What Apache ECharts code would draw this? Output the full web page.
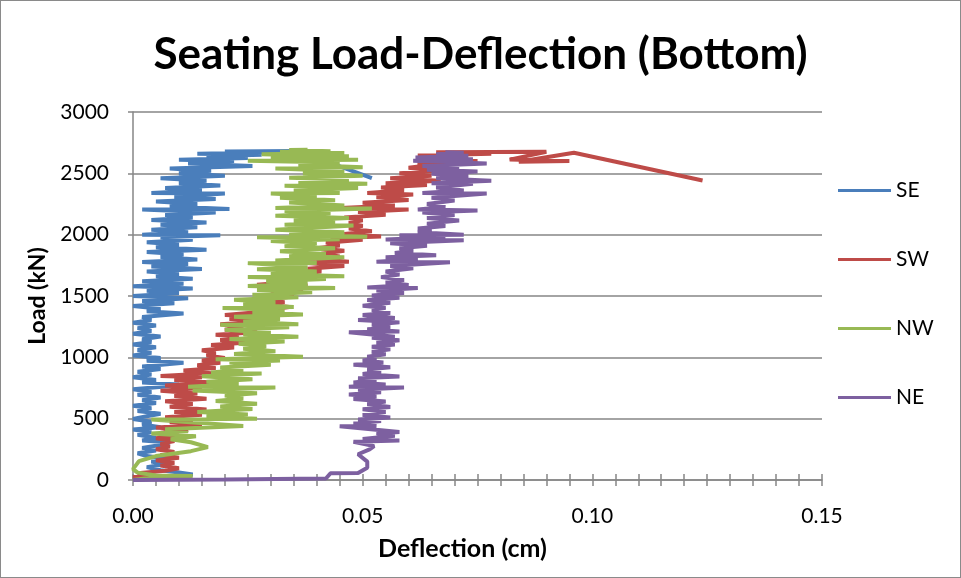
<!DOCTYPE html>
<html>
<head>
<meta charset="utf-8">
<script src="https://cdn.jsdelivr.net/npm/echarts@6/dist/echarts.min.js"></script>
<style>
  html, body { margin: 0; padding: 0; background: #fff; }
  #main { width: 961px; height: 578px; box-sizing: border-box; border: 1px solid #8a8a8a; }
</style>
</head>
<body>
<div id="main"></div>
<script>
// Axis ticks
const deflectionTicks = [0, 0.05, 0.10, 0.15];
const loadTicks = [0, 500, 1000, 1500, 2000, 2500, 3000];

const seriesNames = ['SE', 'SW', 'NW', 'NE'];

// Gauge readings: [deflection (cm), load (kN)]
const seData = [
  [0.000,0],[0.004,8],[0.009,22],[0.013,45],[0.010,62],[0.006,80],[0.003,105],[0.007,128],[0.004,150],[0.008,172],
  [0.003,195],[0.001,218],[0.005,240],[0.002,262],[0.006,285],[0.008,305],[0.002,322],[0.005,345],[0.001,368],[0.004,390],
  [0.000,412],[0.006,430],[0.002,452],[0.004,475],[0.000,498],[0.003,520],[0.006,540],[0.001,562],[0.004,585],[0.000,605],
  [0.005,628],[0.002,650],[0.006,672],[0.001,695],[0.004,718],[0.000,740],[0.007,762],[0.010,778],[0.002,795],[0.005,815],
  [0.000,838],[0.004,860],[0.001,882],[0.006,905],[0.002,925],[0.011,955],[0.003,972],[0.006,995],[0.000,1015],[0.004,1038],
  [0.001,1060],[0.005,1082],[0.000,1105],[0.004,1125],[0.002,1148],[0.006,1170],[0.000,1192],[0.004,1215],[0.001,1238],[0.005,1260],
  [0.000,1282],[0.004,1305],[0.002,1328],[0.011,1358],[0.003,1375],[0.006,1395],[0.000,1418],[0.009,1440],[0.002,1460],[0.012,1482],
  [0.000,1500],[0.010,1522],[0.003,1542],[0.013,1562],[0.000,1580],[0.011,1600],[0.002,1620],[0.013,1640],[0.005,1660],[0.010,1680],
  [0.003,1700],[0.015,1720],[0.004,1740],[0.012,1760],[0.002,1778],[0.014,1798],[0.006,1818],[0.011,1838],[0.003,1858],[0.016,1878],
  [0.005,1898],[0.010,1918],[0.003,1938],[0.013,1958],[0.006,1978],[0.019,1995],[0.002,2000],[0.012,2020],[0.004,2040],[0.014,2060],
  [0.006,2080],[0.016,2100],[0.004,2120],[0.013,2140],[0.007,2160],[0.018,2180],[0.002,2205],[0.021,2210],[0.008,2230],[0.014,2250],
  [0.005,2270],[0.018,2290],[0.009,2310],[0.020,2335],[0.004,2340],[0.015,2360],[0.007,2380],[0.019,2400],[0.010,2420],[0.016,2440],
  [0.006,2460],[0.020,2480],[0.010,2500],[0.017,2520],[0.008,2540],[0.026,2560],[0.012,2580],[0.022,2600],[0.010,2610],[0.025,2625],
  [0.016,2640],[0.028,2652],[0.014,2660],[0.030,2670],[0.020,2678],[0.036,2682],[0.052,2460]
];

const swData = [
  [0.000,0],[0.003,12],[0.000,25],[0.004,40],[0.001,55],[0.007,75],[0.010,95],[0.006,118],[0.009,140],[0.005,160],
  [0.010,182],[0.006,205],[0.009,228],[0.005,250],[0.008,272],[0.006,295],[0.009,318],[0.005,340],[0.010,362],[0.006,385],
  [0.012,408],[0.005,428],[0.015,448],[0.008,470],[0.013,490],[0.007,512],[0.015,532],[0.009,555],[0.016,575],[0.008,598],
  [0.013,620],[0.007,642],[0.016,662],[0.009,685],[0.014,705],[0.006,728],[0.015,750],[0.007,770],[0.018,792],[0.009,815],
  [0.015,838],[0.006,848],[0.017,870],[0.011,892],[0.018,912],[0.014,935],[0.019,955],[0.015,975],[0.020,995],[0.016,1015],
  [0.018,1035],[0.015,1058],[0.022,1080],[0.017,1100],[0.025,1120],[0.019,1142],[0.023,1165],[0.018,1185],[0.027,1205],[0.020,1225],
  [0.024,1248],[0.019,1270],[0.028,1290],[0.021,1312],[0.029,1335],[0.020,1346],[0.027,1368],[0.030,1390],[0.034,1410],[0.029,1430],
  [0.033,1450],[0.028,1472],[0.035,1495],[0.030,1515],[0.037,1538],[0.031,1560],[0.038,1585],[0.027,1592],[0.034,1612],[0.030,1635],
  [0.039,1655],[0.035,1675],[0.041,1700],[0.038,1722],[0.046,1745],[0.036,1775],[0.047,1780],[0.040,1800],[0.045,1822],[0.041,1845],
  [0.046,1868],[0.040,1890],[0.045,1912],[0.042,1935],[0.050,1958],[0.043,1970],[0.054,1985],[0.046,2005],[0.052,2028],[0.047,2050],
  [0.050,2072],[0.047,2095],[0.050,2118],[0.046,2140],[0.055,2162],[0.049,2185],[0.060,2205],[0.044,2215],[0.057,2238],[0.050,2260],
  [0.060,2282],[0.053,2305],[0.061,2328],[0.051,2340],[0.059,2362],[0.054,2385],[0.064,2405],[0.055,2420],[0.067,2440],[0.056,2460],
  [0.065,2480],[0.058,2500],[0.066,2520],[0.060,2545],[0.064,2565],[0.062,2585],[0.075,2600],[0.063,2615],[0.071,2630],[0.062,2645],
  [0.078,2660],[0.066,2672],[0.090,2675],[0.082,2612],[0.095,2600],[0.084,2595],[0.096,2668],[0.124,2442]
];

const nwData = [
  [0.000,0],[0.006,28],[0.013,32],[0.005,36],[0.001,60],[0.000,89],[0.0013,154],[0.005,195],[0.0126,235],[0.0163,268],
  [0.0126,308],[0.0082,332],[0.0137,357],[0.004,380],[0.012,398],[0.007,413],[0.024,440],[0.004,494],[0.027,500],[0.016,518],
  [0.025,535],[0.014,555],[0.026,578],[0.019,600],[0.027,622],[0.018,645],[0.024,665],[0.020,688],[0.027,708],[0.013,730],
  [0.031,754],[0.012,760],[0.023,782],[0.016,800],[0.026,822],[0.015,845],[0.028,868],[0.017,876],[0.024,898],[0.019,918],
  [0.030,940],[0.021,957],[0.032,975],[0.018,985],[0.037,1005],[0.022,1028],[0.031,1050],[0.024,1070],[0.029,1090],[0.023,1110],
  [0.033,1130],[0.021,1150],[0.036,1168],[0.024,1188],[0.030,1200],[0.020,1225],[0.034,1245],[0.019,1265],[0.036,1270],[0.024,1290],
  [0.032,1310],[0.022,1330],[0.037,1350],[0.026,1368],[0.033,1385],[0.0195,1403],[0.035,1410],[0.024,1430],[0.031,1450],[0.022,1470],
  [0.036,1490],[0.026,1510],[0.039,1530],[0.027,1548],[0.044,1565],[0.025,1582],[0.038,1600],[0.029,1620],[0.042,1638],[0.025,1654],
  [0.046,1660],[0.030,1680],[0.040,1700],[0.027,1718],[0.038,1735],[0.025,1768],[0.040,1770],[0.031,1790],[0.046,1816],[0.034,1825],
  [0.042,1845],[0.032,1865],[0.044,1889],[0.033,1905],[0.040,1930],[0.030,1948],[0.045,1962],[0.027,1978],[0.051,1982],[0.034,2000],
  [0.046,2020],[0.031,2040],[0.048,2075],[0.033,2080],[0.044,2100],[0.035,2116],[0.047,2135],[0.031,2155],[0.043,2175],[0.033,2192],
  [0.052,2213],[0.031,2218],[0.046,2238],[0.034,2262],[0.044,2280],[0.032,2300],[0.040,2318],[0.030,2335],[0.045,2340],[0.035,2360],
  [0.049,2380],[0.033,2398],[0.051,2416],[0.036,2432],[0.047,2450],[0.034,2465],[0.050,2480],[0.037,2500],[0.046,2520],[0.031,2540],
  [0.050,2550],[0.036,2570],[0.045,2588],[0.025,2602],[0.049,2610],[0.030,2625],[0.047,2640],[0.028,2655],[0.046,2665],[0.032,2675],
  [0.043,2680],[0.034,2690],[0.038,2692]
];

const neData = [
  [0.000,0],[0.020,5],[0.042,12],[0.043,55],[0.049,58],[0.051,100],[0.051,150],[0.049,210],[0.0515,250],[0.0525,276],
  [0.048,312],[0.058,322],[0.050,335],[0.057,360],[0.053,380],[0.058,392],[0.045,438],[0.053,440],[0.048,460],[0.054,480],
  [0.049,494],[0.056,510],[0.050,530],[0.055,555],[0.050,576],[0.056,595],[0.051,618],[0.055,640],[0.048,660],[0.053,680],
  [0.047,697],[0.054,715],[0.049,735],[0.059,754],[0.047,760],[0.055,778],[0.048,795],[0.053,815],[0.049,830],[0.058,843],
  [0.050,865],[0.054,885],[0.051,900],[0.056,920],[0.048,940],[0.0545,957],[0.050,975],[0.053,990],[0.051,1005],[0.055,1025],
  [0.052,1045],[0.056,1065],[0.052,1087],[0.057,1105],[0.053,1119],[0.058,1140],[0.052,1160],[0.057,1168],[0.047,1205],[0.058,1210],
  [0.051,1228],[0.056,1248],[0.052,1265],[0.058,1285],[0.049,1305],[0.057,1320],[0.050,1346],[0.056,1362],[0.052,1385],[0.055,1403],
  [0.050,1420],[0.056,1445],[0.051,1468],[0.058,1485],[0.052,1505],[0.059,1525],[0.053,1545],[0.062,1565],[0.051,1570],[0.060,1590],
  [0.055,1610],[0.059,1630],[0.054,1654],[0.058,1675],[0.055,1700],[0.061,1727],[0.056,1745],[0.069,1776],[0.053,1780],[0.062,1800],
  [0.055,1815],[0.066,1832],[0.057,1850],[0.061,1870],[0.058,1889],[0.064,1910],[0.056,1930],[0.072,1954],[0.055,1960],[0.068,1980],
  [0.058,1995],[0.072,2000],[0.062,2020],[0.065,2040],[0.062,2051],[0.068,2070],[0.064,2090],[0.071,2116],[0.064,2135],[0.070,2160],
  [0.063,2180],[0.075,2197],[0.062,2205],[0.068,2225],[0.064,2250],[0.070,2278],[0.065,2300],[0.077,2335],[0.063,2340],[0.072,2360],
  [0.066,2385],[0.074,2416],[0.065,2420],[0.078,2440],[0.066,2460],[0.073,2480],[0.065,2497],[0.075,2515],[0.064,2530],[0.071,2546],
  [0.063,2560],[0.077,2580],[0.061,2602],[0.074,2615],[0.0615,2630],[0.073,2643],[0.066,2655],[0.072,2668],[0.068,2672]
];

const seriesData = [seData, swData, nwData, neData];
const seriesColors = ['#4a7ebb', '#be4b48', '#98b954', '#7d60a0'];

const FONT = 'Lato, "Open Sans", sans-serif';
const AXIS_GRAY = '#868686';

const xMin = deflectionTicks[0];
const xMax = deflectionTicks[deflectionTicks.length - 1];
const xStep = deflectionTicks[1] - deflectionTicks[0];
const yMin = loadTicks[0];
const yMax = loadTicks[loadTicks.length - 1];
const yStep = loadTicks[1] - loadTicks[0];

const chart = echarts.init(document.getElementById('main'), null, { renderer: 'canvas' });

const xBase = {
  type: 'value', min: xMin, max: xMax, interval: xStep,
  splitLine: { show: false }
};

chart.setOption({
  animation: false,
  backgroundColor: '#ffffff',
  title: {
    text: 'Seating Load-Deflection (Bottom)',
    left: 'center', top: 27,
    textStyle: { fontFamily: FONT, fontWeight: 'bold', fontSize: 44, color: '#000' }
  },
  grid: { left: 132, right: 138, top: 111, bottom: 97 },
  legend: {
    orient: 'vertical', left: 832, top: 174,
    itemWidth: 53, itemHeight: 3, itemGap: 48,
    icon: 'rect',
    textStyle: { fontFamily: FONT, fontSize: 21, color: '#000', lineHeight: 20, padding: [0, 0, 0, 0] },
    data: seriesNames
  },
  xAxis: [
    Object.assign({}, xBase, {
      name: 'Deflection (cm)', nameLocation: 'middle', nameGap: 56,
      nameTextStyle: { fontFamily: FONT, fontWeight: 'bold', fontSize: 25, color: '#000', padding: [0, 30, 0, 0] },
      axisLine: { show: true, lineStyle: { color: AXIS_GRAY, width: 1.5 } },
      axisTick: { show: true, inside: false, length: 6, lineStyle: { color: AXIS_GRAY, width: 1.5 } },
      minorTick: { show: true, splitNumber: 10, length: 6, lineStyle: { color: AXIS_GRAY, width: 1.5 } },
      axisLabel: {
        fontFamily: FONT, fontSize: 21, color: '#000', margin: 26,
        formatter: v => v.toFixed(2)
      }
    }),
    // inward half of the crossing tick marks
    Object.assign({}, xBase, {
      position: 'bottom',
      axisLine: { show: false },
      axisLabel: { show: false },
      axisTick: { show: true, inside: true, length: 6, lineStyle: { color: AXIS_GRAY, width: 1.5 } },
      minorTick: { show: true, splitNumber: 10, length: 6, lineStyle: { color: AXIS_GRAY, width: 1.5 } }
    })
  ],
  yAxis: {
    type: 'value', min: yMin, max: yMax, interval: yStep,
    name: 'Load (kN)', nameLocation: 'middle', nameGap: 84,
    nameTextStyle: { fontFamily: FONT, fontWeight: 'bold', fontSize: 23, color: '#000' },
    axisLine: { show: true, lineStyle: { color: AXIS_GRAY, width: 1.5 } },
    axisTick: { show: true, inside: false, length: 5, lineStyle: { color: AXIS_GRAY, width: 1.5 } },
    splitLine: { show: true, lineStyle: { color: AXIS_GRAY, width: 1.5 } },
    axisLabel: { fontFamily: FONT, fontSize: 21, color: '#000', margin: 24, formatter: v => String(v) }
  },
  series: seriesNames.map((name, i) => ({
    name: name,
    type: 'line',
    xAxisIndex: 0,
    data: seriesData[i],
    symbol: 'none',
    showSymbol: false,
    clip: false,
    color: seriesColors[i],
    lineStyle: { color: seriesColors[i], width: 4 },
    z: 2 + i
  }))
});
</script>
</body>
</html>
